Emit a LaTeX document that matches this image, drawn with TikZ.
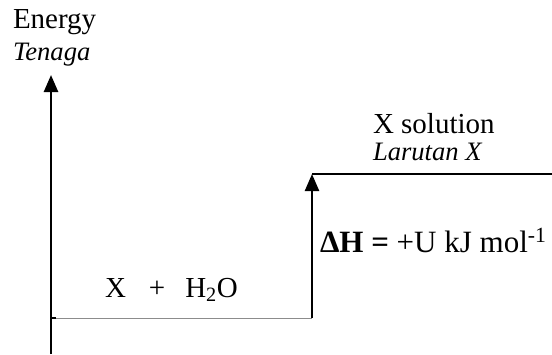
\documentclass[tikz,border=0pt]{standalone}
\usepackage{fontspec}
\setmainfont{Liberation Serif}
\usetikzlibrary{arrows.meta}
\begin{document}
\begin{tikzpicture}[x=1pt,y=-1pt,
  lbl/.style={anchor=base west,inner sep=0pt,outer sep=0pt,font=\fontsize{29}{33}\selectfont},
  ilbl/.style={lbl,font=\fontsize{26.6}{30}\selectfont\itshape},
  axisline/.style={line width=2.6pt,-{Triangle[width=14pt,length=17pt]}},
  level/.style={line width=1.2pt}]
\useasboundingbox (0,0) rectangle (552,354);
% coordinates
\coordinate (axbot) at (51,354);
\coordinate (axtop) at (51,75);
\coordinate (lowL) at (51,318);
\coordinate (lowR) at (312,318);
\coordinate (upL) at (312,174);
\coordinate (upR) at (552,174);
% axis
\draw[axisline] (axbot) -- (axtop);
% lower level
\draw[line width=1pt,black!45] (lowL) -- (lowR);
\draw[line width=1.5pt] (lowL) -- ++(5,0);
% upper level
\draw[level] (upL) -- (upR);
% enthalpy arrow
\draw[axisline,line width=2.4pt] (lowR) -- (upL);
% labels
\node[lbl] (en) at (13,28) {Energy};
\node[ilbl] (te) at (13,60) {Tenaga};
\node[lbl] (xs) at (373,133) {X solution};
\node[ilbl] (lx) at (373,160) {Larutan X};
\node[lbl,font=\fontsize{31}{35}\selectfont] (dh) at (320,252) {\textbf{ΔH =} +U kJ mol\textsuperscript{-1}};
\node[lbl] (re) at (105,297) {X\hspace{23pt}+\hspace{20pt}H\textsubscript{2}O};
\end{tikzpicture}
\end{document}
